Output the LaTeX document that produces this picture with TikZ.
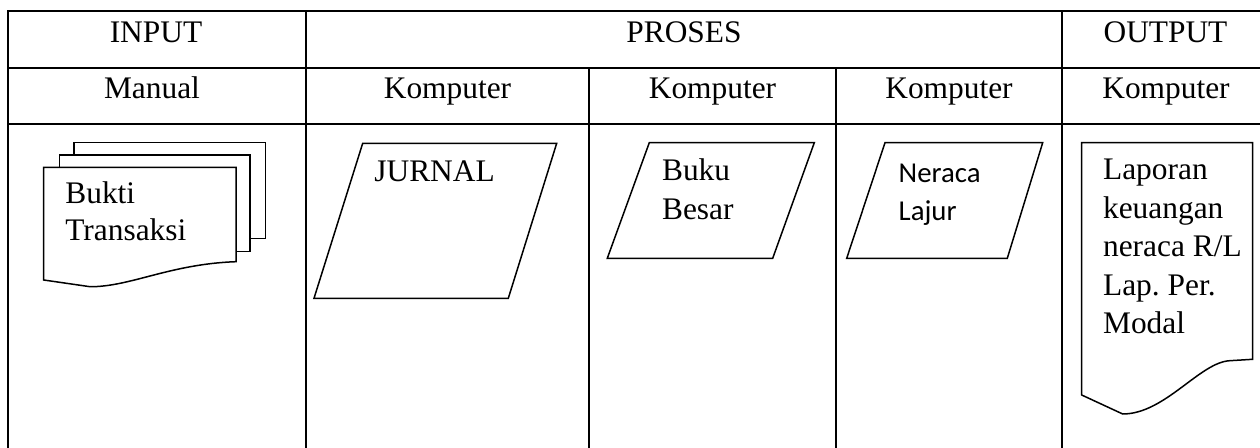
\documentclass[tikz,border=0pt]{standalone}
\usepackage{fontspec}
\setmainfont{Liberation Serif}
\newfontfamily\calfont{Carlito}
\frenchspacing
\begin{document}
\begin{tikzpicture}[x=0.5pt,y=-0.5pt,
  grid/.style={line width=0.8pt},
  symb/.style={line width=0.75pt, line join=miter},
  hdr/.style={anchor=base, inner sep=0pt, font=\fontsize{15.7}{18}\selectfont},
  txt/.style={anchor=base west, inner sep=0pt, font=\fontsize{15.7}{18}\selectfont},
  txtsans/.style={anchor=base west, inner sep=0pt, font=\calfont\fontsize{14.4}{17}\selectfont}]
\useasboundingbox (0,0) rectangle (1260,448);
% table grid
\draw[grid] (1260,11) -- (8,11) -- (8,448);
\draw[grid] (8,68) -- (1260,68);
\draw[grid] (8,124) -- (1260,124);
\draw[grid] (306,11) -- (306,448);
\draw[grid] (1062,11) -- (1062,448);
\draw[grid] (589,68) -- (589,448);
\draw[grid] (836,68) -- (836,448);
% header texts
\node[hdr] (input) at (156,42.5) {INPUT};
\node[hdr] (proses) at (684,42.5) {PROSES};
\node[hdr] (output) at (1165.5,42.5) {OUTPUT};
\node[hdr] (manual) at (152,98.5) {Manual};
\node[hdr] (k1) at (447.5,98.5) {Komputer};
\node[hdr] (k2) at (712.5,98.5) {Komputer};
\node[hdr] (k3) at (949,98.5) {Komputer};
\node[hdr] (k4) at (1166,98.5) {Komputer};
% multi-document
\draw[symb] (250,238.3) -- (265.7,238.3) -- (265.7,142.7) -- (74,142.7) -- (74,155);
\draw[symb] (236,251.7) -- (250,251.7) -- (250,155) -- (59.3,155) -- (59.3,167.3);
\draw[symb] (43.7,280) -- (43.7,167.3) -- (236,167.3) -- (236,261.7)
  .. controls (170,264) and (130,287) .. (90,286.7) -- cycle;
\node[txt] (bukti) at (65,204) {Bukti};
\node[txt] (transaksi) at (65,240.7) {Transaksi};
% parallelograms
\draw[symb] (362.7,143.3) -- (556.7,143.3) -- (508.3,298.3) -- (314,298.3) -- cycle;
\node[txt] (jurnal) at (374,181.7) {JURNAL};
\draw[symb] (649.3,142.7) -- (814.3,142.7) -- (772.7,258.3) -- (607.3,258.3) -- cycle;
\node[txt] (buku) at (661.7,180.7) {Buku};
\node[txt] (besar) at (661.7,219.3) {Besar};
\draw[symb] (885,142.7) -- (1042.7,142.7) -- (1007.3,258.3) -- (846.7,258.3) -- cycle;
\node[txtsans] (neraca) at (898.3,182.7) {Neraca};
\node[txtsans] (lajur) at (898.3,221) {Lajur};
% output document
\draw[symb] (1081.7,395) -- (1081.7,142.7) -- (1252.7,142.7) -- (1252.7,359.3) -- (1230,360.7)
  .. controls (1200,362) and (1165,414) .. (1122.7,414) -- cycle;
\node[txt] (l1) at (1102.7,180) {Laporan};
\node[txt] (l2) at (1102.7,218.5) {keuangan};
\node[txt] (l3) at (1102.7,257) {neraca R/L};
\node[txt] (l4) at (1102.7,295.5) {Lap. Per.};
\node[txt] (l5) at (1102.7,334) {Modal};
\end{tikzpicture}
\end{document}
